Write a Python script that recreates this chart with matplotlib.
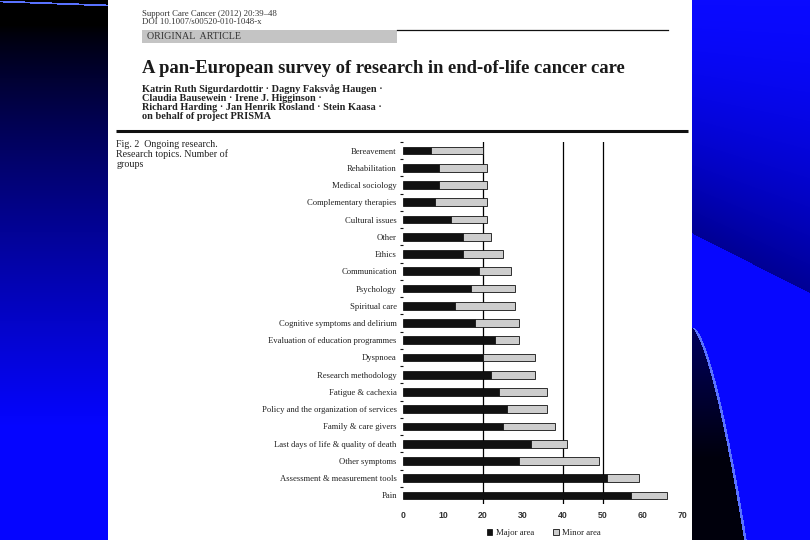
#!/usr/bin/env python3
"""Slide with a scanned article page: ongoing research topics, number of groups."""

import matplotlib

matplotlib.use("Agg")
import matplotlib.pyplot as plt
import numpy as np
from matplotlib.patches import Rectangle

# Data (number of groups)
topics = [
    "Bereavement",
    "Rehabilitation",
    "Medical sociology",
    "Complementary therapies",
    "Cultural issues",
    "Other",
    "Ethics",
    "Communication",
    "Psychology",
    "Spiritual care",
    "Cognitive symptoms and delirium",
    "Evaluation of education programmes",
    "Dyspnoea",
    "Research methodology",
    "Fatigue & cachexia",
    "Policy and the organization of services",
    "Family & care givers",
    "Last days of life & quality of death",
    "Other symptoms",
    "Assessment & measurement tools",
    "Pain",
]
major_area = [7, 9, 9, 8, 12, 15, 15, 19, 17, 13, 18, 23, 20, 22, 24, 26, 25, 32, 29, 51, 57]
minor_area = [13, 12, 12, 13, 9, 7, 10, 8, 11, 15, 11, 6, 13, 11, 12, 10, 13, 9, 20, 8, 9]
x_ticks = [0, 10, 20, 30, 40, 50, 60, 70]
ref_lines = [20, 40, 50]

authors = [
    "Katrin Ruth Sigurdardottir \u00b7 Dagny Faksv\u00e5g Haugen \u00b7",
    "Claudia Bausewein \u00b7 Irene J. Higginson \u00b7",
    "Richard Harding \u00b7 Jan Henrik Rosland \u00b7 Stein Kaasa \u00b7",
    "on behalf of project PRISMA",
]
caption = ["Fig. 2  Ongoing research.", "Research topics. Number of", "groups"]

SERIF = "Liberation Serif"
SANS = "Liberation Sans"
W, H = 810, 540


def background():
    """Blue slide template with the white page in the middle."""
    yy, xx = np.mgrid[0:H, 0:W].astype(float)
    img = np.zeros((H, W, 3))

    # left strip: black at top fading to blue
    blue = np.clip((yy - 25) / 400.0, 0, 1) ** 0.8
    img[..., 2] = blue
    img[..., 0] = 0.02 * blue
    img[..., 1] = 0.02 * blue

    # right strip
    right = xx >= 692
    edge = 233 + (xx - 692) * (60.0 / 118.0)
    upper = right & (yy < edge)
    t = np.clip(yy / edge, 0, 1)
    img[..., 2] = np.where(upper, 1.0 - 0.42 * t ** 1.6, img[..., 2])
    img[..., 0] = np.where(upper, 0.04 * (1 - t), img[..., 0])
    img[..., 1] = np.where(upper, 0.04 * (1 - t), img[..., 1])
    lower = right & (yy >= edge)
    img[..., 2] = np.where(lower, 1.0, img[..., 2])
    img[..., 0] = np.where(lower, 0.03, img[..., 0])
    img[..., 1] = np.where(lower, 0.03, img[..., 1])

    curve = 692 + 53 * (np.clip(yy - 327, 0, None) / 213.0) ** 0.65
    dark = right & (yy > 327) & (xx < curve)
    s = np.clip((yy - 327) / 130.0, 0, 1)
    img[..., 2] = np.where(dark, 0.32 * (1 - s) + 0.05, img[..., 2])
    img[..., 0] = np.where(dark, 0.0, img[..., 0])
    img[..., 1] = np.where(dark, 0.0, img[..., 1])
    rim = right & (yy > 327) & (np.abs(xx - curve) < 1.3)
    img[rim] = (0.35, 0.45, 1.0)

    # thin light line along the top-left edge
    top = (xx < 108) & (np.abs(yy - (1 + xx * 4 / 108.0)) < 0.9)
    img[top] = (0.35, 0.45, 1.0)

    # white page
    img[:, 108:692] = 1.0
    return img


def create_slide():
    fig = plt.figure(figsize=(8.1, 5.4), dpi=100)

    bg = fig.add_axes([0, 0, 1, 1])
    bg.imshow(background(), extent=[0, W, H, 0], aspect="auto", interpolation="bilinear")
    bg.set_xlim(0, W)
    bg.set_ylim(H, 0)
    bg.axis("off")

    # article header
    bg.text(142, 14, "Support Care Cancer (2012) 20:39\u201348", family=SERIF,
            fontsize=6.3, color="#333333", va="center")
    bg.text(142, 21.5, "DOI 10.1007/s00520-010-1048-x", family=SERIF,
            fontsize=6.3, color="#333333", va="center")
    bg.add_patch(Rectangle((142, 29.8), 255, 13.6, color="#c4c4c4", lw=0))
    bg.plot([397, 668], [29.8, 29.8], color="#111111", lw=0.9)
    bg.text(147, 36.5, "ORIGINAL  ARTICLE", family=SERIF, fontsize=7.2,
            color="#333333", va="center")
    bg.text(142, 68.5, "A pan-European survey of research in end-of-life cancer care",
            family=SERIF, fontsize=13.4, fontweight="bold", color="#1a1a1a", va="center")
    for i, line in enumerate(authors):
        bg.text(142, 89.5 + i * 8.9, line, family=SERIF, fontsize=7.4,
                fontweight="bold", color="#222222", va="center")
    bg.plot([116, 688], [131.2, 131.2], color="#111111", lw=2.2, solid_capstyle="butt")

    for i, line in enumerate(caption):
        bg.text(116.5, 144.5 + i * 9.8, line, family=SERIF, fontsize=7.2,
                color="#222222", va="center")

    # bar chart
    ax = fig.add_axes([403 / W, 1 - 504.1 / H, 280 / W, 362.2 / H])
    pos = np.arange(len(topics))
    ax.barh(pos, major_area, height=0.44, color="#111111", edgecolor="#000000",
            lw=0.5, label="Major area", zorder=2)
    ax.barh(pos, minor_area, left=major_area, height=0.44, color="#cdcdcd",
            edgecolor="#111111", lw=0.6, label="Minor area", zorder=2)
    for v in ref_lines:
        ax.axvline(v, color="#000000", lw=0.9, zorder=1)

    ax.set_xlim(0, 70)
    ax.set_ylim(len(topics) - 0.5, -0.5)
    for sp in ax.spines.values():
        sp.set_visible(False)
    ax.set_facecolor("none")

    ax.set_xticks(x_ticks)
    ax.set_xticklabels([str(v) for v in x_ticks], family=SANS, fontsize=6.3,
                       fontweight="bold", color="#333333")
    ax.tick_params(axis="x", length=0, pad=5)

    ax.set_yticks(pos)
    ax.set_yticklabels(topics, family=SERIF, fontsize=6.2, color="#222222")
    ax.set_yticks(np.arange(-0.5, len(topics) - 1, 1.0), minor=True)
    ax.tick_params(axis="y", which="major", length=0, pad=4.5)
    ax.tick_params(axis="y", which="minor", length=2.2, width=0.8, color="#111111")

    ax.legend(ncol=2, loc="center", bbox_to_anchor=(544 / W, 1 - 533 / H),
              bbox_transform=fig.transFigure, frameon=False,
              prop={"family": SERIF, "size": 6.3}, handlelength=0.6,
              handleheight=0.6, handletextpad=0.4, columnspacing=2.2,
              labelcolor="#222222")
    return fig


def main():
    fig = create_slide()
    fig.savefig("out.png", dpi=100, facecolor="white")
    plt.close(fig)


if __name__ == "__main__":
    main()
